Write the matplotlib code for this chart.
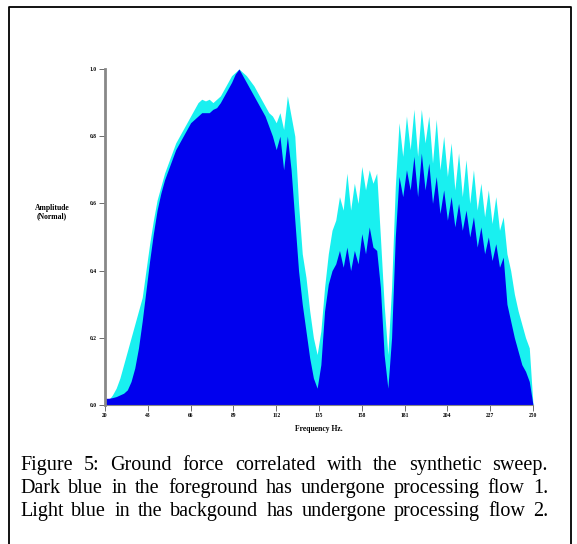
import numpy as np
import matplotlib
matplotlib.use('Agg')
import matplotlib.pyplot as plt
from matplotlib.lines import Line2D

# spectrum sampled every 2 Hz, 20..250 Hz
freqs = np.arange(20, 251, 2)

# light blue (processing flow 2)
flow2 = [0.01, 0.015, 0.03, 0.05, 0.08, 0.12, 0.16, 0.20, 0.24, 0.28,
         0.32, 0.40, 0.48, 0.55, 0.61, 0.65, 0.69, 0.72, 0.75, 0.78,
         0.80, 0.82, 0.84, 0.86, 0.88, 0.90, 0.91, 0.905, 0.91, 0.90,
         0.91, 0.92, 0.94, 0.96, 0.98, 0.99, 1.00, 0.99, 0.98, 0.965,
         0.95, 0.93, 0.91, 0.89, 0.87, 0.86, 0.84, 0.87, 0.82, 0.92,
         0.86, 0.80, 0.60, 0.45, 0.38, 0.28, 0.20, 0.15, 0.22, 0.35,
         0.45, 0.52, 0.55, 0.62, 0.58, 0.69, 0.58, 0.66, 0.60, 0.71,
         0.64, 0.70, 0.66, 0.69, 0.50, 0.30, 0.15, 0.35, 0.65, 0.84,
         0.74, 0.86, 0.76, 0.88, 0.74, 0.88, 0.78, 0.86, 0.72, 0.85,
         0.70, 0.80, 0.68, 0.78, 0.64, 0.75, 0.62, 0.73, 0.60, 0.70,
         0.58, 0.66, 0.56, 0.64, 0.54, 0.62, 0.52, 0.56, 0.45, 0.40,
         0.33, 0.28, 0.24, 0.20, 0.17, 0.0]

# dark blue (processing flow 1)
flow1 = [0.02, 0.02, 0.022, 0.025, 0.03, 0.035, 0.045, 0.07, 0.11, 0.17,
         0.25, 0.34, 0.43, 0.51, 0.58, 0.63, 0.67, 0.70, 0.73, 0.76,
         0.78, 0.80, 0.82, 0.84, 0.85, 0.86, 0.87, 0.87, 0.87, 0.88,
         0.885, 0.90, 0.92, 0.94, 0.96, 0.985, 1.0, 0.98, 0.96, 0.94,
         0.92, 0.90, 0.88, 0.86, 0.83, 0.80, 0.76, 0.80, 0.70, 0.80,
         0.70, 0.55, 0.40, 0.30, 0.22, 0.14, 0.08, 0.05, 0.12, 0.28,
         0.36, 0.40, 0.42, 0.46, 0.41, 0.47, 0.40, 0.46, 0.42, 0.51,
         0.45, 0.53, 0.47, 0.46, 0.35, 0.15, 0.05, 0.20, 0.50, 0.68,
         0.62, 0.70, 0.64, 0.74, 0.62, 0.75, 0.64, 0.72, 0.60, 0.68,
         0.57, 0.64, 0.55, 0.62, 0.53, 0.60, 0.52, 0.58, 0.50, 0.56,
         0.47, 0.53, 0.45, 0.50, 0.43, 0.48, 0.41, 0.44, 0.30, 0.25,
         0.20, 0.16, 0.12, 0.10, 0.07, 0.0]

xticks = [20, 43, 66, 89, 112, 135, 158, 181, 204, 227, 250]
yticks = [0.0, 0.2, 0.4, 0.6, 0.8, 1.0]

caption = [
    "Figure 5: Ground force correlated with the synthetic sweep.",
    "Dark blue in the foreground has undergone processing flow 1.",
    "Light blue in the backgound has undergone processing flow 2.",
]

W, H = 577, 544
fig = plt.figure(figsize=(W / 100, H / 100), dpi=100)
ax = fig.add_axes([105 / W, 1 - 405 / H, 428 / W, 336 / H])

ax.fill_between(freqs, flow2, color='#19f0f0', linewidth=0)
ax.fill_between(freqs, flow1, color='#0000ee', linewidth=0)

ax.set_xlim(20, 250)
ax.set_ylim(0, 1.0)
for s in ['top', 'right']:
    ax.spines[s].set_visible(False)
ax.spines['left'].set_color('#888888')
ax.spines['left'].set_linewidth(2)
ax.spines['bottom'].set_color('#888888')
ax.spines['bottom'].set_linewidth(0.8)

ax.set_xticks(xticks)
ax.set_xticklabels([str(t) for t in xticks])
ax.set_yticks(yticks)
ax.set_yticklabels(['%.1f' % t for t in yticks])
ax.tick_params(axis='both', length=4, width=0.6, color='#555555', pad=2,
               labelsize=4)
for lab in ax.get_xticklabels() + ax.get_yticklabels():
    lab.set_family('Liberation Serif')
    lab.set_fontweight('bold')

fig.text(52 / W, 1 - 212 / H, "Amplitude\n(Normal)", ha='center', va='center',
         fontsize=5.5, fontweight='bold', family='Liberation Serif',
         linespacing=1.1)
fig.text(319 / W, 1 - 429 / H, "Frequency Hz.", ha='center', va='center',
         fontsize=5.5, fontweight='bold', family='Liberation Serif')

# frame around the figure
fig.add_artist(Line2D([9 / W, 9 / W, 571 / W, 571 / W], [0, 1 - 7 / H, 1 - 7 / H, 0],
                      transform=fig.transFigure, color='black', linewidth=1.3))

# caption, justified between left and right margins
renderer = fig.canvas.get_renderer()
left, right = 20, 548
baselines = [470, 493, 516]
for i, line in enumerate(caption):
    y = 1 - baselines[i] / H
    words = line.split(' ')
    texts = [fig.text(0, y, w, fontsize=14.5, family='Liberation Serif',
                      va='baseline', ha='left') for w in words]
    widths = [t.get_window_extent(renderer).width for t in texts]
    gap = (right - left - sum(widths)) / (len(words) - 1)
    x = left
    for t, w in zip(texts, widths):
        t.set_x(x / W)
        x += w + gap

fig.savefig('out.png', dpi=100)
